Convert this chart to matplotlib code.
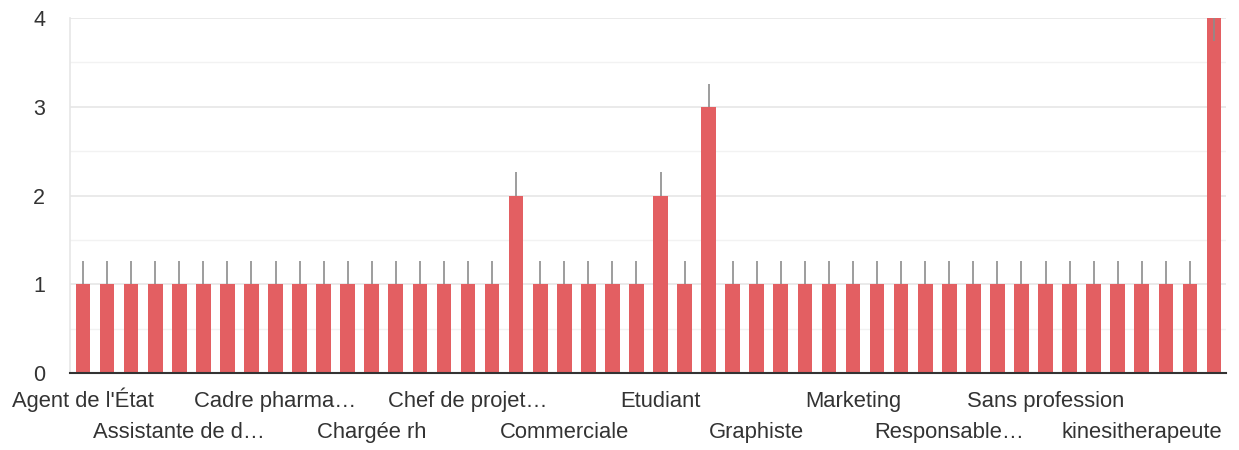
import matplotlib
matplotlib.use("Agg")
import matplotlib.pyplot as plt
from matplotlib.ticker import MultipleLocator

plt.rcParams['font.family'] = ['Liberation Sans', 'DejaVu Sans']

# 48 categories; only every 4th label is visible in the chart
shown_labels = ["Agent de l'État", "Assistante de d…", "Cadre pharma…", "Chargée rh",
                "Chef de projet…", "Commerciale", "Etudiant", "Graphiste",
                "Marketing", "Responsable…", "Sans profession", "kinesitherapeute"]
n_bars = 48
categories = []
for i in range(n_bars):
    categories.append(shown_labels[i // 4] if i % 4 == 0 else "")

values = [1] * 18 + [2] + [1] * 5 + [2, 1, 3] + [1] * 20 + [4]
# interval (whisker) ends
interval_low = list(values)
interval_high = [v + 0.26 for v in values]
interval_low[-1] = 3.74
interval_high[-1] = 4.0

bar_color = '#e35f62'
text_color = '#333333'

fig = plt.figure(figsize=(12.39, 4.5), dpi=100)
ax = fig.add_axes([70/1239, 77/450, (1226-70)/1239, (373-18)/450])

x = list(range(n_bars))
ax.bar(x, values, width=0.61, color=bar_color, zorder=2)
ax.vlines(x, interval_low, interval_high, color='#8c8c8c', linewidth=1.2, zorder=3)

ax.set_xlim(-0.54, n_bars - 0.5)
ax.set_ylim(0, 4)
ax.yaxis.set_major_locator(MultipleLocator(1))
ax.yaxis.set_minor_locator(MultipleLocator(0.5))
ax.grid(axis='y', which='major', color='#e6e6e6', linewidth=1.2, zorder=0)
ax.grid(axis='y', which='minor', color='#f2f2f2', linewidth=1.0, zorder=0)
ax.set_axisbelow(True)

for s in ['top', 'right']:
    ax.spines[s].set_visible(False)
ax.spines['left'].set_color('#e6e6e6')
ax.spines['left'].set_linewidth(1.2)
ax.spines['bottom'].set_color('#333333')
ax.spines['bottom'].set_linewidth(1.5)
ax.spines['bottom'].set_zorder(4)

ax.tick_params(axis='y', which='both', length=0, pad=18, labelsize=15.5, labelcolor=text_color)
ax.set_xticks([])

for i, lab in enumerate(categories):
    if lab:
        row = (i // 4) % 2
        ypix = 407 if row == 0 else 438
        ax.text(i, -(ypix - 373) / (373 - 18), lab, transform=ax.get_xaxis_transform(),
                ha='center', va='baseline', fontsize=15.8, color=text_color)

fig.savefig('out.png', dpi=100, facecolor='white')
